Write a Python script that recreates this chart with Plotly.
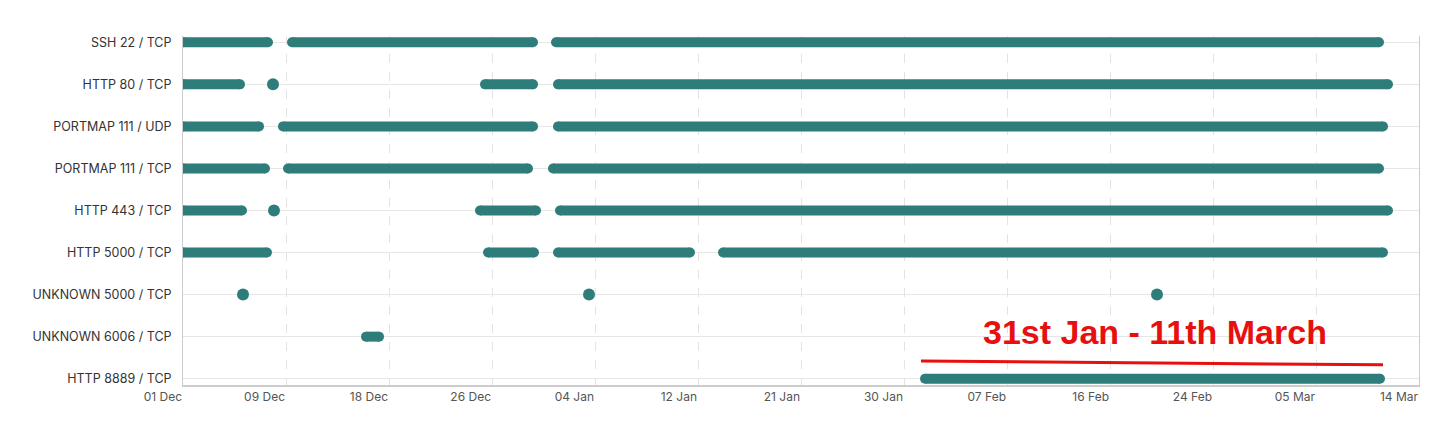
import plotly.graph_objects as go
import datetime as dt

# rows from top to bottom
services = ["SSH 22 / TCP", "HTTP 80 / TCP", "PORTMAP 111 / UDP", "PORTMAP 111 / TCP",
            "HTTP 443 / TCP", "HTTP 5000 / TCP", "UNKNOWN 5000 / TCP",
            "UNKNOWN 6006 / TCP", "HTTP 8889 / TCP"]

# active periods (start, end); start == end means a single observation
periods = {
    "SSH 22 / TCP": [("2022-12-01", "2022-12-08 02:00"), ("2022-12-10 02:00", "2022-12-30 04:00"),
                     ("2023-01-01 02:00", "2023-03-10 16:00")],
    "HTTP 80 / TCP": [("2022-12-01", "2022-12-05 18:00"), ("2022-12-08 12:00", "2022-12-08 12:00"),
                      ("2022-12-26 04:00", "2022-12-30 04:00"), ("2023-01-01 06:00", "2023-03-11 10:00")],
    "PORTMAP 111 / UDP": [("2022-12-01", "2022-12-07 08:00"), ("2022-12-09 08:00", "2022-12-30 04:00"),
                          ("2023-01-01 06:00", "2023-03-11 00:00")],
    "PORTMAP 111 / TCP": [("2022-12-01", "2022-12-07 20:00"), ("2022-12-09 18:00", "2022-12-29 18:00"),
                          ("2022-12-31 20:00", "2023-03-10 16:00")],
    "HTTP 443 / TCP": [("2022-12-01", "2022-12-05 22:00"), ("2022-12-08 14:00", "2022-12-08 14:00"),
                       ("2022-12-25 18:00", "2022-12-30 10:00"), ("2023-01-01 10:00", "2023-03-11 10:00")],
    "HTTP 5000 / TCP": [("2022-12-01", "2022-12-08"), ("2022-12-26 10:00", "2022-12-30 06:00"),
                        ("2023-01-01 06:00", "2023-01-12 06:00"), ("2023-01-15", "2023-03-11")],
    "UNKNOWN 5000 / TCP": [("2022-12-06", "2022-12-06"), ("2023-01-03 20:00", "2023-01-03 20:00"),
                           ("2023-02-20 04:00", "2023-02-20 04:00")],
    "UNKNOWN 6006 / TCP": [("2022-12-16 06:00", "2022-12-17 08:00")],
    "HTTP 8889 / TCP": [("2023-01-31 20:00", "2023-03-10 18:00")],
}

tick_labels = ["01 Dec", "09 Dec", "18 Dec", "26 Dec", "04 Jan", "12 Jan", "21 Jan",
               "30 Jan", "07 Feb", "16 Feb", "24 Feb", "05 Mar", "14 Mar"]
x_start = dt.datetime(2022, 12, 1)
x_end = dt.datetime(2023, 3, 14)

teal = "#2e7d7a"
n = len(services)
yval = {s: n - 1 - i for i, s in enumerate(services)}
pad = 0.15

fig = go.Figure()
for s in services:
    xs, ys, dx, dy = [], [], [], []
    for a, b in periods[s]:
        if a == b:
            dx.append(a); dy.append(yval[s])
        else:
            xs += [a, b, None]; ys += [yval[s], yval[s], None]
    if xs:
        fig.add_trace(go.Scatter(x=xs, y=ys, mode="lines+markers",
                                 line=dict(color=teal, width=10),
                                 marker=dict(color=teal, size=10),
                                 showlegend=False, name=s))
    if dx:
        fig.add_trace(go.Scatter(x=dx, y=dy, mode="markers",
                                 marker=dict(color=teal, size=12),
                                 showlegend=False, name=s))

step = (x_end - x_start) / (len(tick_labels) - 1)
tickvals = [x_start + step * k for k in range(len(tick_labels))]

# highlight annotation
fig.add_annotation(x="2023-02-20", y=1.1, text="<b>31st Jan - 11th March</b>", showarrow=False,
                   font=dict(color="#e8100f", size=34, family="Liberation Sans"))
fig.add_shape(type="line", x0="2023-01-31 12:00", y0=0.42, x1="2023-03-11", y1=0.33,
              line=dict(color="#e8100f", width=3))

fig.update_layout(
    width=1441, height=426, plot_bgcolor="white", paper_bgcolor="white",
    margin=dict(l=175, r=30, t=28, b=49),
    font=dict(family="Inter", size=12, color="#333"),
    xaxis=dict(range=[x_start, x_end], tickvals=tickvals, ticktext=tick_labels,
               ticklabelposition="outside left", showgrid=True, gridcolor="#e3e3e3",
               griddash="dash", showline=True, linecolor="#cccccc", linewidth=2,
               zeroline=False, tickfont=dict(color="#555"), automargin=False),
    yaxis=dict(range=[-pad, n - 1 + pad], tickvals=list(range(n)),
               ticktext=list(reversed(services)), showgrid=True, gridcolor="#e6e6e6",
               showline=True, linecolor="#cccccc", mirror=True, zeroline=False,
               ticks="outside", ticklen=8, tickcolor="rgba(0,0,0,0)", automargin=False,
               tickfont=dict(size=12.5, color="#333")),
)

fig.write_html("out.html")
